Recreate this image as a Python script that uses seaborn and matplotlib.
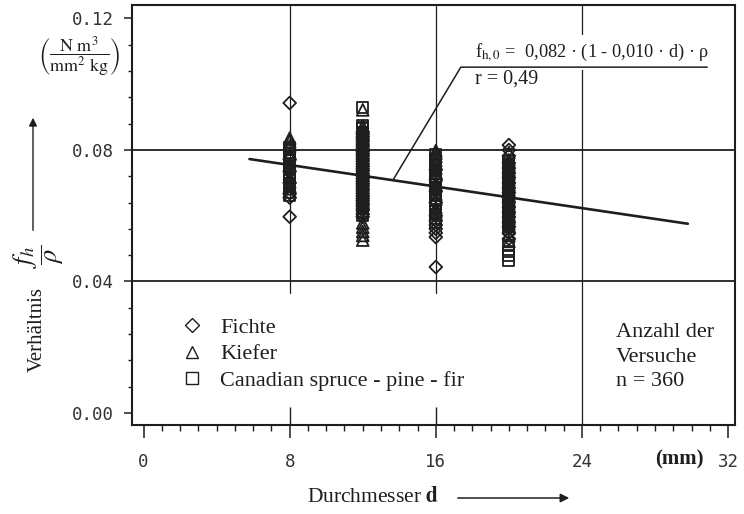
import numpy as np
import pandas as pd
import matplotlib
matplotlib.use("Agg")
import matplotlib.pyplot as plt
from matplotlib.lines import Line2D
import seaborn as sns

# Ratio f_h / rho per wood species and dowel diameter d (mm)
fichte_d8 = [0.0943, 0.0772, 0.0735, 0.0700, 0.0668, 0.0655, 0.0597]
kiefer_d8 = [0.0836, 0.0826, 0.0812, 0.0785, 0.0752, 0.0718, 0.0703, 0.0690, 0.0682, 0.0672]
cspf_d8 = [0.0808, 0.0800, 0.0790, 0.0780, 0.0768, 0.0760, 0.0748, 0.0740, 0.0730,
           0.0722, 0.0712, 0.0695, 0.0662]

fichte_d12 = [0.0855, 0.0848, 0.0840, 0.0833, 0.0826, 0.0818, 0.0811, 0.0803, 0.0795,
              0.0788, 0.0781, 0.0773, 0.0766, 0.0758, 0.0750, 0.0743, 0.0736, 0.0728,
              0.0721, 0.0713, 0.0705, 0.0698, 0.0691, 0.0683, 0.0676, 0.0668, 0.0660,
              0.0653, 0.0646, 0.0638, 0.0631, 0.0623, 0.0616, 0.0605, 0.0597]
kiefer_d12 = [0.0922, 0.0872, 0.0860, 0.0845, 0.0829, 0.0815, 0.0800, 0.0786, 0.0770,
              0.0755, 0.0741, 0.0725, 0.0711, 0.0696, 0.0680, 0.0666, 0.0651, 0.0636,
              0.0622, 0.0578, 0.0565, 0.0552, 0.0540, 0.0526]
cspf_d12 = [0.0928, 0.0876, 0.0868, 0.0865, 0.0853, 0.0850, 0.0838, 0.0835, 0.0823,
            0.0820, 0.0808, 0.0805, 0.0793, 0.0790, 0.0779, 0.0776, 0.0763, 0.0760,
            0.0748, 0.0745, 0.0733, 0.0730, 0.0719, 0.0716, 0.0703, 0.0700, 0.0689,
            0.0686, 0.0674, 0.0671, 0.0659, 0.0656, 0.0644, 0.0641, 0.0629, 0.0626,
            0.0614, 0.0611, 0.0600]

fichte_d16 = [0.0740, 0.0710, 0.0675, 0.0640, 0.0600, 0.0585, 0.0572, 0.0560, 0.0548,
              0.0535, 0.0444]
kiefer_d16 = [0.0798, 0.0790, 0.0780, 0.0768, 0.0758, 0.0745, 0.0732, 0.0722, 0.0700,
              0.0690, 0.0665, 0.0650, 0.0625, 0.0610]
cspf_d16 = [0.0785, 0.0772, 0.0752, 0.0738, 0.0728, 0.0715, 0.0705, 0.0695, 0.0682,
            0.0670, 0.0660, 0.0645, 0.0632, 0.0620, 0.0605, 0.0592, 0.0580]

fichte_d20 = [0.0815, 0.0800, 0.0782, 0.0760, 0.0745, 0.0731, 0.0716, 0.0700, 0.0685,
              0.0671, 0.0655, 0.0641, 0.0626, 0.0610, 0.0596, 0.0580, 0.0566, 0.0548, 0.0530]
kiefer_d20 = [0.0792, 0.0770, 0.0762, 0.0755, 0.0747, 0.0740, 0.0733, 0.0726, 0.0718,
              0.0710, 0.0702, 0.0695, 0.0688, 0.0680, 0.0673, 0.0666, 0.0658, 0.0650,
              0.0643, 0.0636, 0.0628, 0.0621, 0.0613, 0.0605, 0.0598, 0.0591, 0.0583,
              0.0575, 0.0568, 0.0561, 0.0540, 0.0522]
cspf_d20 = [0.0765, 0.0757, 0.0750, 0.0742, 0.0735, 0.0727, 0.0720, 0.0712, 0.0705,
            0.0697, 0.0690, 0.0682, 0.0675, 0.0667, 0.0660, 0.0652, 0.0645, 0.0637,
            0.0630, 0.0622, 0.0615, 0.0607, 0.0600, 0.0593, 0.0586, 0.0578, 0.0570,
            0.0510, 0.0492, 0.0478, 0.0465]

species = ["Fichte", "Kiefer", "Canadian spruce - pine - fir"]
diameters = [8, 12, 16, 20]
series = {
    "Fichte": [fichte_d8, fichte_d12, fichte_d16, fichte_d20],
    "Kiefer": [kiefer_d8, kiefer_d12, kiefer_d16, kiefer_d20],
    "Canadian spruce - pine - fir": [cspf_d8, cspf_d12, cspf_d16, cspf_d20],
}

# Regression f_h,0 = a * (1 - b * d) * rho
fit_a = 0.082
fit_b = 0.010
fit_d = [5.8, 29.8]

x_ticks = [0, 8, 16, 24, 32]
y_ticks = [0.0, 0.04, 0.08, 0.12]
y_tick_labels = ["0.00", "0.04", "0.08", "0.12"]

rows = []
for sp in species:
    for d, vals in zip(diameters, series[sp]):
        rows += [{"species": sp, "d": d, "ratio": v} for v in vals]
df = pd.DataFrame(rows)

sns.set_theme(style="white")
plt.rcParams["font.family"] = ["Liberation Serif", "DejaVu Serif"]
plt.rcParams["mathtext.fontset"] = "stix"

W, H = 744, 514
fig = plt.figure(figsize=(W / 100, H / 100), dpi=100)
L, R, T, B = 131.5, 735, 5, 425
ax = fig.add_axes([L / W, 1 - B / H, (R - L) / W, (B - T) / H])

ink = "#1e1e1e"
xlo, xhi = -0.66, 32.38
ylo, yhi = -0.00365, 0.1241
ax.set_xlim(xlo, xhi)
ax.set_ylim(ylo, yhi)

# reference lines
ax.axhline(0.08, color=ink, lw=1.3, zorder=1)
ax.axhline(0.04, color=ink, lw=1.3, zorder=1)
frac = (0.0365 - ylo) / (yhi - ylo)
ax.axvline(8, ymin=frac, color=ink, lw=0.9, zorder=1)
ax.axvline(16, ymin=frac, color=ink, lw=0.9, zorder=1)
ax.axvline(24, color=ink, lw=0.9, zorder=1)
ax.vlines([8, 16], ylo, 0.0018, color=ink, lw=1.0, zorder=1)

markers = {"Fichte": ("D", 42), "Kiefer": ("^", 72), "Canadian spruce - pine - fir": ("s", 62)}
for sp in species:
    mk, sz = markers[sp]
    sub = df[df["species"] == sp]
    sns.scatterplot(data=sub, x="d", y="ratio", marker=mk, s=sz, color=ink,
                    facecolor="none", edgecolor=ink, linewidth=1.3, ax=ax,
                    legend=False, zorder=3)
    ax.collections[-1].set_facecolor("none")

# regression line
fd = np.array(fit_d)
sns.lineplot(x=fd, y=fit_a * (1 - fit_b * fd), color=ink, lw=1.9, ax=ax, zorder=4)

# equation label with leader line
d0 = 13.65
ax.plot([d0, 17.37, 30.86], [fit_a * (1 - fit_b * d0), 0.1052, 0.1052],
        color=ink, lw=1.1, zorder=5)
ax.text(18.15, 0.1097, r"f$_{\mathrm{h,0}}$ =  0,082 · (1 - 0,010 · d) · ρ",
        fontsize=13.2, color=ink, va="center", ha="left", zorder=4,
        bbox=dict(fc="white", ec="none", pad=5))
ax.text(18.15, 0.1016, "r = 0,49", fontsize=14.5, color=ink, va="center", ha="left",
        zorder=4, bbox=dict(fc="white", ec="none", pad=6))

# ticks
ax.set_xticks(x_ticks)
ax.set_xticks(np.arange(0, 33, 1), minor=True)
ax.set_yticks(y_ticks)
ax.set_yticks(np.arange(0, 0.121, 0.008), minor=True)
ax.set_yticklabels(y_tick_labels)
ax.set_xticklabels([str(v) for v in x_ticks])
ax.tick_params(axis="x", which="major", direction="out", length=9, width=1.1,
               pad=11, labelsize=12.5, colors=ink, labelcolor="#333333")
ax.tick_params(axis="x", which="minor", direction="out", length=4.5, width=1.0, colors=ink)
ax.tick_params(axis="y", which="major", direction="out", length=6, width=1.1,
               pad=7, labelsize=12.5, colors=ink, labelcolor="#333333")
ax.tick_params(axis="y", which="minor", direction="out", length=3, width=1.0, colors=ink)
ax.tick_params(bottom=True, left=True, which="both")
for lbl in ax.get_xticklabels() + ax.get_yticklabels():
    lbl.set_fontfamily("DejaVu Sans Mono")
for sp in ax.spines.values():
    sp.set_color(ink)
    sp.set_linewidth(1.5)
ax.set_xlabel("")
ax.set_ylabel("")

# legend
handles = [Line2D([], [], ls="none", marker=markers[sp][0], mfc="none", mec=ink,
                  mew=1.0, ms=8 if sp != "Fichte" else 7) for sp in species]
ax.legend(handles, species, loc="center left", bbox_to_anchor=(0.082, 0.169),
          frameon=False, fontsize=16, handlelength=1.0, handletextpad=0.75,
          labelspacing=0.28, borderpad=0, borderaxespad=0, labelcolor=ink)

fig.text(616 / W, 1 - 357 / H, "Anzahl der\nVersuche\nn = 360", fontsize=16,
         color=ink, ha="left", va="center", linespacing=1.38)

# axis titles
fig.text(679 / W, 1 - 459 / H, "(mm)", fontsize=15, fontweight="bold", color=ink,
         ha="center", va="center")
fig.text(373 / W, 1 - 497 / H, r"Durchmesser $\mathbf{d}$", fontsize=15.5, color=ink,
         ha="center", va="center")
fig.add_artist(matplotlib.patches.FancyArrowPatch(
    (455 / W, 1 - 498 / H), (572 / W, 1 - 498 / H), transform=fig.transFigure,
    arrowstyle="-|>", mutation_scale=13, lw=1.1, color=ink))

fig.text(37 / W, 1 - 329 / H, "Verhältnis", fontsize=15,
         color=ink, rotation=90, ha="center", va="center")
fig.text(39 / W, 1 - 256 / H, r"$\dfrac{f_h}{\rho}$", fontsize=19,
         color=ink, rotation=90, ha="center", va="center")
fig.add_artist(matplotlib.patches.FancyArrowPatch(
    (33 / W, 1 - 233 / H), (33 / W, 1 - 115 / H), transform=fig.transFigure,
    arrowstyle="-|>", mutation_scale=12, lw=1.0, color=ink))
fig.text(79 / W, 1 - 57 / H,
         r"$\left(\dfrac{\mathrm{N\ m^3}}{\mathrm{mm^2\ kg}}\right)$",
         fontsize=13, color=ink, ha="center", va="center")

fig.savefig("out.png", dpi=100, facecolor="white")
